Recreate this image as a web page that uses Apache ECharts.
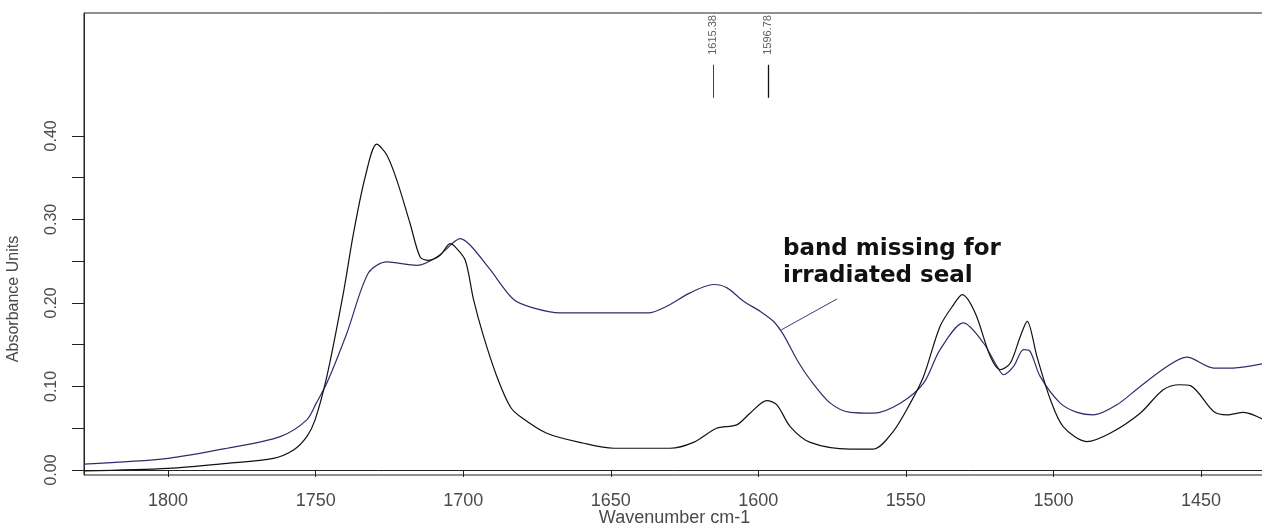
<!DOCTYPE html>
<html>
<head>
<meta charset="utf-8">
<script src="https://cdn.jsdelivr.net/npm/echarts@6/dist/echarts.min.js"></script>
<style>
  html, body { margin: 0; padding: 0; background: #fff; }
  #chart { width: 1262px; height: 529px; }
</style>
</head>
<body>
<div id="chart"></div>
<script>
// wavenumber (cm-1), absorbance
const blueWave = [1828.5, 1800, 1780, 1762, 1753, 1749.8, 1746.2, 1739.4, 1732.1, 1725.9, 1715.7, 1708.9, 1702.7, 1701, 1697.6, 1690.9, 1682.9, 1676.3, 1667.1, 1637.2, 1631, 1623.1, 1615.2, 1610.6, 1605, 1599.4, 1594.9, 1591.5, 1586.9, 1582.4, 1575.6, 1568.9, 1561, 1551.9, 1544, 1538.4, 1530.5, 1523.7, 1519.1, 1516.9, 1513.5, 1510.1, 1507.9, 1504.5, 1497.7, 1492, 1486.4, 1478.5, 1470.6, 1461.5, 1454.8, 1445.7, 1439.1, 1429.2];
const blueAbs = [0.007, 0.014, 0.026, 0.040, 0.060, 0.080, 0.104, 0.164, 0.236, 0.249, 0.245, 0.255, 0.274, 0.277, 0.269, 0.240, 0.204, 0.194, 0.188, 0.188, 0.196, 0.212, 0.222, 0.218, 0.202, 0.190, 0.178, 0.162, 0.132, 0.108, 0.080, 0.069, 0.068, 0.080, 0.104, 0.144, 0.176, 0.152, 0.124, 0.114, 0.124, 0.144, 0.142, 0.112, 0.080, 0.069, 0.066, 0.078, 0.100, 0.124, 0.135, 0.122, 0.122, 0.127];

const blackWave = [1828.5, 1800, 1780, 1764.3, 1757.5, 1753, 1750.2, 1746.2, 1740.6, 1737.2, 1733.2, 1729.3, 1725.9, 1722.5, 1718, 1714.6, 1711.8, 1707.8, 1704.4, 1702.7, 1699.3, 1696.5, 1693.1, 1688.6, 1684.1, 1680.7, 1671.7, 1659.2, 1649, 1629.9, 1622, 1614.1, 1607.3, 1602.8, 1597.1, 1593.7, 1589.2, 1582.4, 1568.9, 1561, 1554.3, 1548.5, 1544, 1538.4, 1533.8, 1530.9, 1526.5, 1521.4, 1518, 1514.6, 1511.2, 1508.9, 1505.6, 1501, 1496.7, 1488.7, 1480.8, 1470.6, 1462.8, 1457.1, 1453.6, 1445.7, 1441.2, 1435.6, 1429.2];
const blackAbs = [-0.001, 0.002, 0.008, 0.014, 0.024, 0.040, 0.060, 0.112, 0.212, 0.283, 0.351, 0.390, 0.377, 0.347, 0.295, 0.255, 0.251, 0.257, 0.271, 0.267, 0.251, 0.204, 0.160, 0.112, 0.076, 0.064, 0.044, 0.032, 0.026, 0.026, 0.033, 0.050, 0.054, 0.068, 0.083, 0.078, 0.052, 0.033, 0.025, 0.025, 0.046, 0.080, 0.112, 0.172, 0.198, 0.210, 0.188, 0.136, 0.120, 0.128, 0.160, 0.178, 0.136, 0.084, 0.052, 0.034, 0.044, 0.068, 0.096, 0.102, 0.101, 0.070, 0.066, 0.069, 0.061];

const xTicks = [1800, 1750, 1700, 1650, 1600, 1550, 1500, 1450];
const yTicks = [0, 0.05, 0.10, 0.15, 0.20, 0.25, 0.30, 0.35, 0.40];
const yLabels = [0, 0.10, 0.20, 0.30, 0.40];
const peaks = [1615.38, 1596.78];
const note = 'band missing for\nirradiated seal';

const blueColor = '#2e2e6a';
const blackColor = '#111111';
const labelColor = '#4a4a4a';

const zip = (xs, ys) => xs.map((x, i) => [x, ys[i]]);

const chart = echarts.init(document.getElementById('chart'));
chart.setOption({
  animation: false,
  backgroundColor: '#fff',
  grid: {
    left: 84, right: -3, top: 13, bottom: 54,
    outerBoundsMode: 'none',
    show: true, borderColor: '#222', borderWidth: 1
  },
  xAxis: {
    type: 'value',
    inverse: true,
    min: 1428.3,
    max: 1828.5,
    name: 'Wavenumber cm-1',
    nameLocation: 'middle',
    nameGap: 34,
    nameMoveOverlap: false,
    nameTextStyle: { fontFamily: 'Liberation Sans', fontSize: 18, color: labelColor },
    axisLine: { lineStyle: { color: '#222' } },
    axisTick: { customValues: xTicks, length: 7, lineStyle: { color: '#222' } },
    axisLabel: {
      customValues: xTicks, margin: 17,
      fontFamily: 'Liberation Sans', fontSize: 18, color: labelColor,
      formatter: v => String(v)
    },
    splitLine: { show: false }
  },
  yAxis: {
    type: 'value',
    min: -0.006,
    max: 0.547,
    name: 'Absorbance Units',
    nameLocation: 'middle',
    nameRotate: 90,
    nameGap: 62,
    nameMoveOverlap: false,
    nameTextStyle: {
      fontFamily: 'Liberation Sans', fontSize: 16, color: labelColor,
      padding: [0, 110, 0, 0]
    },
    axisLine: { show: true, lineStyle: { color: '#222' } },
    axisTick: { customValues: yTicks, length: 12, lineStyle: { color: '#222' } },
    axisLabel: {
      customValues: yLabels, rotate: 90, margin: 24,
      fontFamily: 'Liberation Sans', fontSize: 16, color: labelColor,
      formatter: v => v.toFixed(2)
    },
    splitLine: { show: false }
  },
  series: [
    {
      name: 'unirradiated',
      type: 'line',
      data: zip(blueWave, blueAbs),
      smooth: 0.3,
      showSymbol: false,
      lineStyle: { color: blueColor, width: 1.2 },
      markLine: {
        silent: true, symbol: 'none', label: { show: false },
        lineStyle: { color: '#3a3a80', width: 1, type: 'solid' },
        data: [
          [{ coord: [peaks[0], 0.4455] }, { coord: [peaks[0], 0.485] }],
          [{ coord: [1573.3, 0.2048] }, { coord: [1592.2, 0.1677] }]
        ]
      }
    },
    {
      name: 'irradiated',
      type: 'line',
      data: zip(blackWave, blackAbs),
      smooth: 0.3,
      showSymbol: false,
      lineStyle: { color: blackColor, width: 1.2 },
      markLine: {
        silent: true, symbol: 'none', label: { show: false },
        lineStyle: { color: blackColor, width: 1.3, type: 'solid' },
        data: [
          [{ coord: [peaks[1], 0.4455] }, { coord: [peaks[1], 0.485] }]
        ]
      }
    },
    {
      name: 'peaks',
      type: 'scatter',
      symbolSize: 0,
      data: peaks.map(p => [p, 0.497]),
      label: {
        show: true, position: 'inside', rotate: 90,
        align: 'left', verticalAlign: 'middle',
        fontFamily: 'Liberation Sans', fontSize: 11, color: '#333',
        formatter: p => p.value[0].toFixed(2)
      }
    }
  ],
  graphic: [{
    type: 'text',
    left: 783,
    top: 236,
    style: {
      text: note,
      font: 'bold 23px "DejaVu Sans"',
      fill: '#111',
      lineHeight: 27
    }
  }]
});
</script>
</body>
</html>
